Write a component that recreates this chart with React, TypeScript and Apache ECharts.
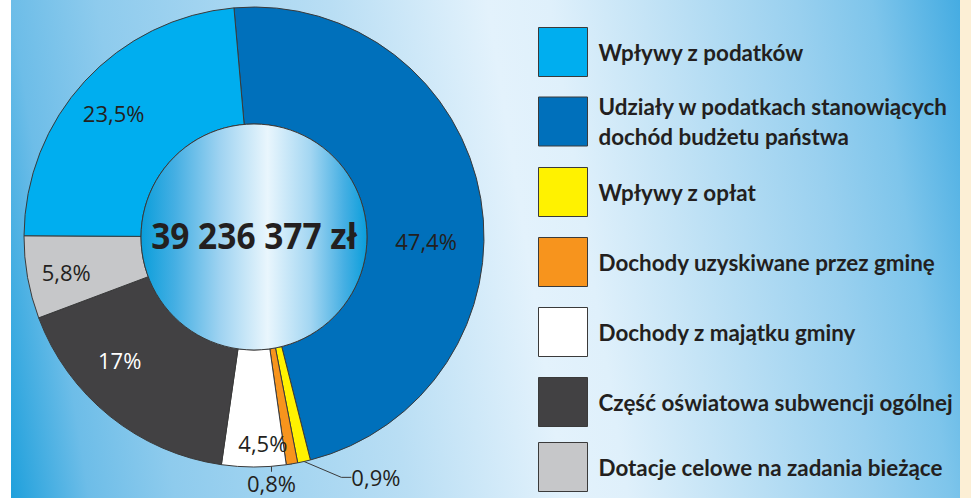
import React, { useEffect, useRef } from "react";
import * as echarts from "echarts";

// ---- data ----
const categories = [
  "Wpływy z podatków",
  "Udziały w podatkach stanowiących dochód budżetu państwa",
  "Wpływy z opłat",
  "Dochody uzyskiwane przez gminę",
  "Dochody z majątku gminy",
  "Część oświatowa subwencji ogólnej",
  "Dotacje celowe na zadania bieżące",
];
const legendTexts = [
  "Wpływy z podatków",
  "Udziały w podatkach stanowiących\ndochód budżetu państwa",
  "Wpływy z opłat",
  "Dochody uzyskiwane przez gminę",
  "Dochody z majątku gminy",
  "Część oświatowa subwencji ogólnej",
  "Dotacje celowe na zadania bieżące",
];
const shares = [23.5, 47.4, 0.9, 0.8, 4.5, 17, 5.8];
const totalLabel = "39 236 377 zł";

// ---- styling / layout ----
const colors = ["#00aeef", "#0070bb", "#fff200", "#f7941d", "#ffffff", "#424143", "#c6c7c9"];
const pieOrder = [1, 2, 3, 4, 5, 6, 0]; // clockwise from the top
const outsideLabels = new Set([2, 3]);
const labelOffsets: Record<number, [number, number]> = {
  0: [-12, -6],
  1: [0, 33],
  2: [31, 10],
  3: [-61, 13],
  4: [9, 32],
  5: [-25, -13],
  6: [-16, 4],
};
const CX = 254;
const CY = 237;
const R_IN = 113;
const R_OUT = 230;
const legendTops = [27, 91.5, 167, 237, 307, 377, 442];

const fmt = (v: number) => String(v).replace(".", ",") + "%";

export default function App() {
  const ref = useRef<HTMLDivElement>(null);
  useEffect(() => {
    if (!ref.current) return;
    const chart = echarts.init(ref.current, undefined, { renderer: "svg" });
    const option: any = {
      animation: false,
      backgroundColor: "transparent",
      legend: categories.map((c, i) => ({
        orient: "vertical",
        left: 538,
        top: legendTops[i],
        padding: 0,
        data: [c],
        icon: "rect",
        itemWidth: 49,
        itemHeight: 49,
        selectedMode: false,
        formatter: (name: string) => legendTexts[categories.indexOf(name)],
        itemStyle: { borderColor: "#3a3a3a", borderWidth: 1 },
        textStyle: {
          fontFamily: "Lato",
          fontWeight: "bold",
          fontSize: 22.4,
          lineHeight: 30,
          color: "#231f20",
          padding: [0, 0, 0, 6],
        },
      })),
      graphic: [
        {
          type: "circle",
          z: 10,
          shape: { cx: CX, cy: CY, r: R_IN },
          style: {
            fill: new echarts.graphic.LinearGradient(0, 0, 1, 0, [
              { offset: 0, color: "#0a9edb" },
              { offset: 0.15, color: "#45afe3" },
              { offset: 0.35, color: "#9fd3f1" },
              { offset: 0.56, color: "#e9f6fd" },
              { offset: 0.75, color: "#a3d6f2" },
              { offset: 0.9, color: "#45afe3" },
              { offset: 1, color: "#0a9edb" },
            ]),
            stroke: "#3a3a3a",
            lineWidth: 1,
          },
        },
        {
          type: "text",
          z: 11,
          x: CX,
          y: CY - 2,
          scaleX: 0.93,
          style: {
            text: totalLabel,
            fontFamily: "Open Sans",
            fontWeight: "bold",
            fontSize: 36,
            fill: "#231f20",
            align: "center",
            verticalAlign: "middle",
          },
        },
      ],
      series: [
        {
          type: "pie",
          center: [CX, CY],
          radius: [R_IN, R_OUT],
          startAngle: 95,
          clockwise: true,
          avoidLabelOverlap: false,
          itemStyle: { borderColor: "#3a3a3a", borderWidth: 1 },
          label: {
            show: true,
            fontFamily: "Open Sans",
            fontWeight: "normal",
            fontSize: 22,
            lineHeight: 20,
            color: "#231f20",
            formatter: (p: any) => fmt(p.value),
          },
          labelLine: {
            length: 6,
            length2: 10,
            lineStyle: { color: "#3a3a3a", width: 1 },
          },
          labelLayout: (params: any) => {
            const ci = pieOrder[params.dataIndex];
            const off = labelOffsets[ci] || [0, 0];
            const r = params.labelRect;
            return {
              x: r.x + r.width / 2 + off[0],
              y: r.y + r.height / 2 + off[1],
              align: "center",
              verticalAlign: "middle",
            };
          },
          emphasis: { disabled: true },
          data: pieOrder.map((i) => ({
            name: categories[i],
            value: shares[i],
            itemStyle: { color: colors[i] },
            label: {
              position: outsideLabels.has(i) ? "outside" : "inside",
              color: i === 5 ? "#ffffff" : "#231f20",
            },
            labelLine: { show: outsideLabels.has(i) },
          })),
        },
      ],
    };
    chart.setOption(option);
    return () => chart.dispose();
  }, []);

  return (
    <div style={{ position: "absolute", left: 0, top: 0, width: 971, height: 498, background: "#ffffff", overflow: "hidden" }}>
      <div
        style={{
          position: "absolute",
          left: 11,
          top: 0,
          width: 949,
          height: 498,
          background:
            "linear-gradient(81deg, #1fa0dc 0%, #6dbde8 7.6%, #8ecbed 16%, #b9def4 38.7%, #e3f2fc 54%, #dff0fb 60%, #c5e4f6 69%, #99d0ef 84%, #7ec5eb 91.4%, #45ace2 100%)",
        }}
      />
      <div style={{ position: "absolute", left: 960, top: 0, width: 11, height: 498, background: "#fcefd5" }} />
      <div ref={ref} style={{ position: "absolute", left: 0, top: 0, width: 971, height: 498 }} />
    </div>
  );
}
